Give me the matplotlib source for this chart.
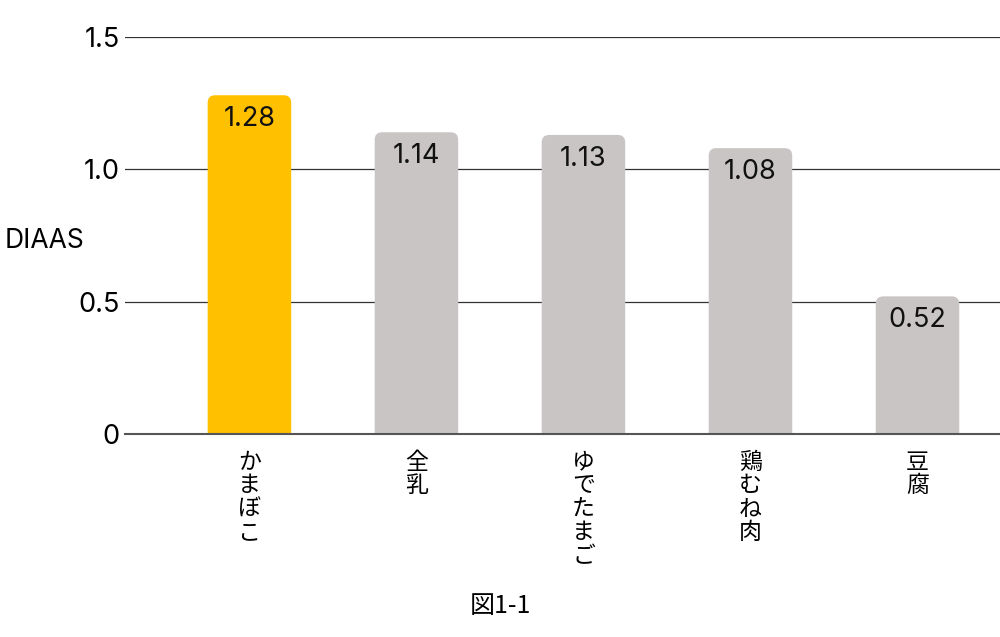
import matplotlib
matplotlib.use("Agg")
import matplotlib.pyplot as plt
from matplotlib.patches import FancyBboxPatch

plt.rcParams['font.family'] = ['Inter', 'Noto Sans CJK JP', 'DejaVu Sans']

# data
foods = ["かまぼこ", "全乳", "ゆでたまご", "鶏むね肉", "豆腐"]
diaas = [1.28, 1.14, 1.13, 1.08, 0.52]
colors = ["#FFC000", "#C8C5C4", "#C8C5C4", "#C8C5C4", "#C8C5C4"]
yticks = [0, 0.5, 1.0, 1.5]
ytick_labels = ["0", "0.5", "1.0", "1.5"]

fig = plt.figure(figsize=(10, 6.37), dpi=100)
ax = fig.add_axes([0.125, 0.3187, 0.875, 0.6232])

x = list(range(len(foods)))
bars = ax.bar(x, diaas, width=0.5, color=colors)

# swap plain bars for rounded ones (bottom rounding is clipped below 0)
for b, c in zip(bars, colors):
    x0, w, h = b.get_x(), b.get_width(), b.get_height()
    b.set_visible(False)
    p = FancyBboxPatch((x0, -0.1), w, h + 0.1,
                       boxstyle="round,pad=0,rounding_size=0.045",
                       mutation_aspect=0.63, facecolor=c, edgecolor="none",
                       zorder=3)
    ax.add_patch(p)

for xi, v in zip(x, diaas):
    ax.annotate(f"{v:.2f}", (xi, v), xytext=(0, -17), textcoords="offset points",
                ha="center", va="center", fontsize=19.5, color="#111111", zorder=4)

ax.set_xlim(-0.745, 4.494)
ax.set_ylim(0, 1.5)
ax.set_yticks(yticks)
ax.set_yticklabels(ytick_labels, fontsize=19.5)
ax.tick_params(axis="y", length=0, pad=4)
ax.grid(axis="y", color="#333333", linewidth=0.9, zorder=1)
ax.set_axisbelow(True)
for s in ["top", "right", "left"]:
    ax.spines[s].set_visible(False)
ax.spines["bottom"].set_color("#555555")
ax.spines["bottom"].set_linewidth(1.5)
ax.spines["bottom"].set_zorder(5)

ax.set_xticks(x)
ax.set_xticklabels(["\n".join(f) for f in foods], fontsize=16.5,
                   family=['Noto Sans CJK JP', 'DejaVu Sans'],
                   va="top", linespacing=1.03)
ax.tick_params(axis="x", length=0, pad=12)

fig.text(0.005, 0.622, "DIAAS", fontsize=19, ha="left", va="center")
fig.text(0.5, 0.048, "図1-1", fontsize=18, ha="center", va="center",
         family=['Noto Sans CJK JP', 'DejaVu Sans'])

fig.savefig("out.png", dpi=100)
